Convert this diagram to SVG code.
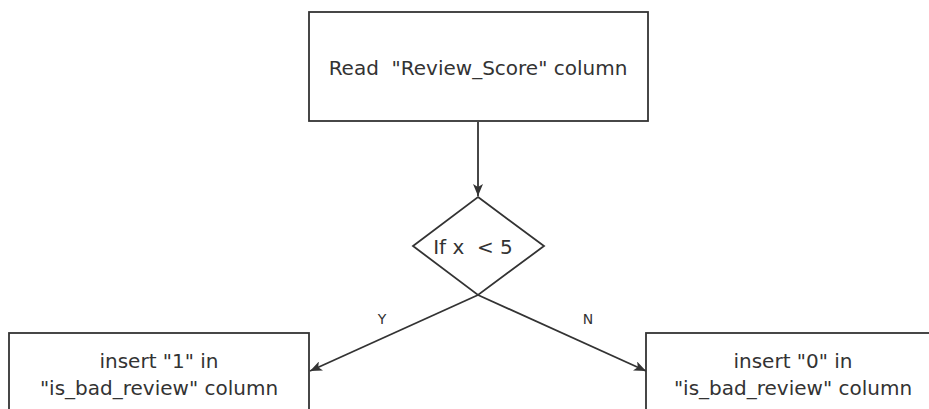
<svg xmlns="http://www.w3.org/2000/svg" width="929" height="409" viewBox="0 0 929 409" xml:space="preserve">
<style>
.box{fill:#fff;stroke:#333;stroke-width:1.8}
.t{font-family:"DejaVu Sans","Open Sans",sans-serif;font-size:20px;fill:#333;text-anchor:middle;white-space:pre}
.lbl{font-family:"DejaVu Sans","Open Sans",sans-serif;font-size:14px;fill:#333;text-anchor:middle}
.edge{fill:none;stroke:#333;stroke-width:1.8}
</style>
<defs>
<marker id="arr" viewBox="0 0 12 10" refX="12" refY="5" markerWidth="13" markerHeight="10" markerUnits="userSpaceOnUse" orient="auto">
<path d="M0,0 L12,5 L0,10 L3,5 Z" fill="#333"/>
</marker>
</defs>
<rect width="929" height="409" fill="#fff"/>
<g id="connectors">
<line class="edge" x1="478" y1="122" x2="478" y2="196" marker-end="url(#arr)"/>
<line class="edge" x1="478" y1="295" x2="310" y2="371" marker-end="url(#arr)"/>
<line class="edge" x1="478" y1="295" x2="646" y2="371" marker-end="url(#arr)"/>
<text class="lbl" x="382" y="324">Y</text>
<text class="lbl" x="588" y="324">N</text>
</g>
<g id="read">
<rect class="box" x="309" y="12" width="339" height="109"/>
<text class="t" x="478" y="75">Read  "Review_Score" column</text>
</g>
<g id="decision">
<polygon class="box" points="478,197 544,246 478,295 413,246"/>
<text class="t" x="473" y="254">If x  &lt; 5</text>
</g>
<g id="yes">
<rect class="box" x="9" y="333" width="300" height="90"/>
<text class="t" x="159" y="368">insert "1" in</text>
<text class="t" x="159" y="395">"is_bad_review" column</text>
</g>
<g id="no">
<rect class="box" x="646" y="333" width="300" height="90"/>
<text class="t" x="793" y="368">insert "0" in</text>
<text class="t" x="793" y="395">"is_bad_review" column</text>
</g>
</svg>
